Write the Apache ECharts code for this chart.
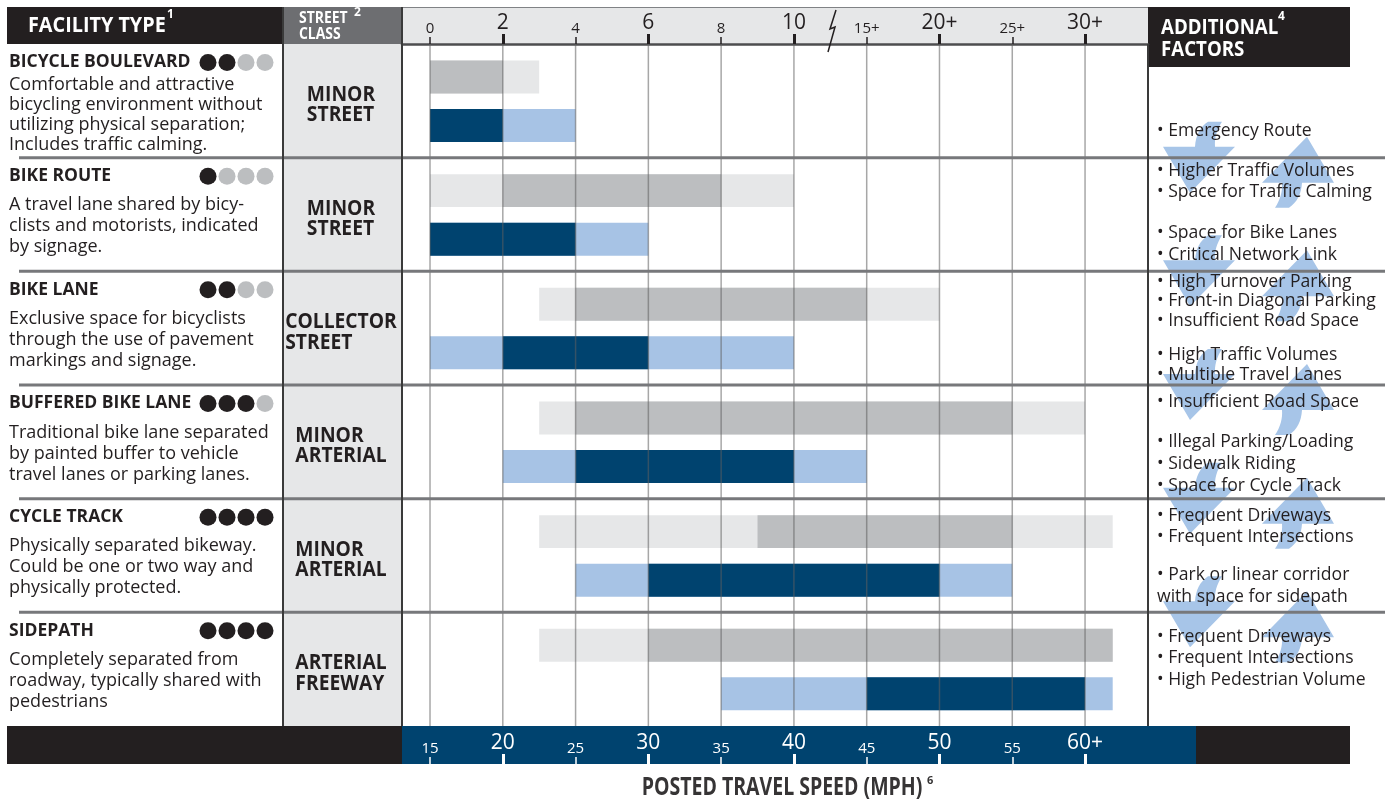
<!DOCTYPE html>
<html><head><meta charset="utf-8">
<script src="https://cdn.jsdelivr.net/npm/echarts@6/dist/echarts.min.js"></script>
<style>html,body{margin:0;padding:0;background:#fff;}#chart{width:1396px;height:804px;}</style>
</head><body><div id="chart"></div>
<script>
// ---------------- DATA ----------------
const facilities = ['BICYCLE BOULEVARD', 'BIKE ROUTE', 'BIKE LANE', 'BUFFERED BIKE LANE', 'CYCLE TRACK', 'SIDEPATH'];
const comfortDots = [2, 1, 2, 3, 4, 4];
const descriptions = [
  ['Comfortable and attractive', 'bicycling environment without', 'utilizing physical separation;', 'Includes traffic calming.'],
  ['A travel lane shared by bicy-', 'clists and motorists, indicated', 'by signage.'],
  ['Exclusive space for bicyclists', 'through the use of pavement', 'markings and signage.'],
  ['Traditional bike lane separated', 'by painted buffer to vehicle', 'travel lanes or parking lanes.'],
  ['Physically separated bikeway.', 'Could be one or two way and', 'physically protected.'],
  ['Completely separated from', 'roadway, typically shared with', 'pedestrians']
];
const streetClasses = [['MINOR', 'STREET'], ['MINOR', 'STREET'], ['COLLECTOR', 'STREET'], ['MINOR', 'ARTERIAL'], ['MINOR', 'ARTERIAL'], ['ARTERIAL', 'FREEWAY']];
const volumeTickLabels = ['0', '2', '4', '6', '8', '10', '15+', '20+', '25+', '30+'];
const speedTickLabels = ['15', '20', '25', '30', '35', '40', '45', '50', '55', '60+'];
// ranges in tick-position units (0 = first tick): [light start, dark start, dark end, light end]
const volumeRanges = [
  [0, 0, 1, 1.5],
  [0, 1, 4, 5],
  [1.5, 2, 6, 7],
  [1.5, 2, 8, 9],
  [1.5, 4.5, 8, 9.38],
  [1.5, 3, 9.38, 9.38]
];
const speedRanges = [
  [0, 0, 1, 2],
  [0, 0, 2, 3],
  [0, 1, 3, 5],
  [1, 2, 5, 6],
  [2, 3, 7, 8],
  [4, 6, 9, 9.38]
];
const factorLines = [
  '• Emergency Route',
  '• Higher Traffic Volumes', '• Space for Traffic Calming',
  '• Space for Bike Lanes', '• Critical Network Link',
  '• High Turnover Parking', '• Front-in Diagonal Parking', '• Insufficient Road Space',
  '• High Traffic Volumes', '• Multiple Travel Lanes',
  '• Insufficient Road Space',
  '• Illegal Parking/Loading', '• Sidewalk Riding', '• Space for Cycle Track',
  '• Frequent Driveways', '• Frequent Intersections',
  '• Park or linear corridor', 'with space for sidepath',
  '• Frequent Driveways', '• Frequent Intersections', '• High Pedestrian Volume'
];

// ---------------- LAYOUT / STYLE ----------------
const factorY = [131, 171, 192, 233, 255, 282, 301, 321, 355, 375, 402, 442, 464, 486, 516, 537, 575, 597, 637, 658, 680];
const FONT = "'Open Sans', 'Noto Sans', sans-serif";
const INK = '#231f20';
const COLORS = ['#e6e7e8', '#bcbec0', '#a7c3e5', '#00436f'];
const XMIN = -0.385, XMAX = 9.865;
const GREY_OFF = 0.29, BLUE_OFF = 0.717, BAR_H = 0.29;

const barData = [];
volumeRanges.forEach((r, i) => { barData.push([r[0], r[3], i, 0]); barData.push([r[1], r[2], i, 1]); });
speedRanges.forEach((r, i) => { barData.push([r[0], r[3], i, 2]); barData.push([r[1], r[2], i, 3]); });
const gridTicks = volumeTickLabels.map((_, i) => [i, 0]);
const rowBounds = [1, 2, 3, 4, 5].map(r => [0, r]);

function renderBar(params, api) {
  const s = api.value(0), e = api.value(1), row = api.value(2), kind = api.value(3);
  const yc = row + (kind < 2 ? GREY_OFF : BLUE_OFF);
  const p0 = api.coord([s, yc]), p1 = api.coord([e, yc]);
  const h = Math.abs(api.size([0, BAR_H])[1]);
  return { type: 'rect', shape: { x: p0[0], y: p0[1] - h / 2, width: p1[0] - p0[0], height: h }, style: { fill: COLORS[kind] } };
}
function renderGridLine(params, api) {
  const v = api.value(0);
  const a = api.coord([v, 0]), b = api.coord([v, 6]);
  return { type: 'line', shape: { x1: a[0], y1: a[1], x2: b[0], y2: b[1] }, style: { stroke: 'rgba(95,95,95,0.55)', lineWidth: 1.5 } };
}
function renderSep(params, api) {
  const y = api.coord([0, api.value(1)])[1];
  return { type: 'line', shape: { x1: 19, y1: y, x2: 1385, y2: y }, style: { stroke: '#77787b', lineWidth: 3 } };
}

function axis(position, vals, labels, big, onBand) {
  const color = onBand ? '#ffffff' : INK;
  return {
    type: 'value', position, min: XMIN, max: XMAX, gridIndex: 0,
    offset: onBand ? 38 : 0, z: 3,
    splitLine: { show: false },
    axisLine: { show: !onBand && !big, lineStyle: { color: '#4d4d4f', width: 2.5 } },
    axisTick: { show: true, customValues: vals, inside: onBand, length: big ? 10 : 7, lineStyle: { color, width: big ? 3 : 1.5 } },
    axisLabel: { show: true, customValues: vals, inside: onBand, margin: big ? 10 : 8, color, fontFamily: FONT, fontSize: big ? 21 : 15,
      formatter: v => labels[Math.round(v)] }
  };
}

const chart = echarts.init(document.getElementById('chart'), null, { renderer: 'canvas' });
chart.setOption({
  animation: false,
  backgroundColor: '#ffffff',
  grid: { left: 402, right: 248, top: 44, bottom: 78 },
  xAxis: [
    axis('top', [0, 2, 4, 6, 8], volumeTickLabels, false, false),
    axis('top', [1, 3, 5, 7, 9], volumeTickLabels, true, false),
    axis('bottom', [0, 2, 4, 6, 8], speedTickLabels, false, true),
    axis('bottom', [1, 3, 5, 7, 9], speedTickLabels, true, true)
  ],
  yAxis: { type: 'value', min: 0, max: 6, inverse: true, show: false },
  series: [
    { type: 'custom', name: 'bars', renderItem: renderBar, data: barData, encode: { x: [0, 1], y: 2 }, z: 2, silent: true },
    { type: 'custom', name: 'grid', renderItem: renderGridLine, data: gridTicks, encode: { x: 0, y: 1 }, z: 4, silent: true },
    { type: 'custom', name: 'sep', renderItem: renderSep, data: rowBounds, encode: { x: 0, y: 1 }, z: 5, silent: true, clip: false }
  ]
});

// ---------------- DECORATION (positions from the axes) ----------------
const rowTop = i => chart.convertToPixel({ yAxisIndex: 0 }, i);
const g = [];
function txt(x, y, text, size, opts) {
  opts = opts || {};
  g.push({ type: 'text', x, y, z: opts.z || 20, scaleX: opts.sx || 1,
    style: { text, fill: opts.fill || INK, fontSize: size, fontFamily: FONT, fontWeight: opts.bold ? 'bold' : 'normal',
      textAlign: opts.align || 'left', textVerticalAlign: 'middle' } });
}
function rect(x, y, w, h, fill, z) { g.push({ type: 'rect', z: z || 0, shape: { x, y, width: w, height: h }, style: { fill } }); }
function line(x1, y1, x2, y2, stroke, w, z) { g.push({ type: 'line', z: z || 6, shape: { x1, y1, x2, y2 }, style: { stroke, lineWidth: w } }); }

const gridTop = rowTop(0), gridBot = rowTop(6);
// header blocks
rect(7, 7, 276, gridTop - 7, INK);
rect(283, 7, 119, gridTop - 7, '#6d6e71');
rect(402, 7, 746, gridTop - 7, '#e6e7e8');
line(402, 7.5, 1148, 7.5, '#808285', 1, 1);
rect(1148, 7, 202, 60, INK, 1);
rect(283, gridTop, 119, gridBot - gridTop, '#e6e7e8');
// bottom band
rect(7, gridBot, 395, 38, INK);
rect(402, gridBot, 794, 38, '#00436f');
rect(1196, gridBot, 154, 38, INK);
// column borders
line(283, 7, 283, gridBot, '#3a3a3a', 2, 6);
line(402, 7, 402, gridBot, '#3a3a3a', 2, 6);
line(1148, gridTop, 1148, gridBot, '#3a3a3a', 2, 6);
// axis break mark
g.push({ type: 'polyline', z: 6, shape: { points: [[836, 10], [830, 29], [835, 27], [828, 52]] }, style: { stroke: INK, lineWidth: 1.5, fill: null } });

// header texts
txt(28, 26, 'FACILITY TYPE', 22, { bold: true, fill: '#fff', sx: 0.9 });
txt(167, 15, '1', 12, { bold: true, fill: '#fff' });
txt(299, 18, 'STREET', 16, { bold: true, fill: '#fff', sx: 0.87 });
txt(299, 34, 'CLASS', 16, { bold: true, fill: '#fff', sx: 0.87 });
txt(354, 13, '2', 12, { bold: true, fill: '#fff' });
txt(1161, 28, 'ADDITIONAL', 21, { bold: true, fill: '#fff', sx: 0.89 });
txt(1161, 50, 'FACTORS', 21, { bold: true, fill: '#fff', sx: 0.89 });
txt(1278, 17, '4', 12, { bold: true, fill: '#fff' });

// left panel rows
const mctx = document.createElement('canvas').getContext('2d');
const SC_SIZE = 20.5, SC_SX = 0.94;
facilities.forEach((name, i) => {
  const top = rowTop(i);
  txt(9, top + 18.5, name, 17.5, { bold: true });
  for (let k = 0; k < 4; k++) {
    g.push({ type: 'circle', z: 20, shape: { cx: 208 + k * 19, cy: top + 18.5, r: 8.5 }, style: { fill: k < comfortDots[i] ? INK : '#bcbec0' } });
  }
  const lines = descriptions[i];
  const start = lines.length > 3 ? 41 : 47.5, step = lines.length > 3 ? 19.8 : 21;
  lines.forEach((l, j) => txt(9, top + start + j * step, l, 18));
  mctx.font = 'bold ' + SC_SIZE + 'px ' + FONT;
  const w = SC_SX * Math.max.apply(null, streetClasses[i].map(s => mctx.measureText(s).width));
  streetClasses[i].forEach((s, j) => txt(341 - w / 2, top + 51 + j * 20.5, s, SC_SIZE, { bold: true, sx: SC_SX }));
});

// additional factors
factorLines.forEach((l, i) => txt(1157, factorY[i], l, 17.6));

// curved arrows at each row boundary (polygon sampled from a curved outline)
function quad(p0, c, p1, n) {
  const out = [];
  for (let k = 1; k <= n; k++) {
    const t = k / n, u = 1 - t;
    out.push([u * u * p0[0] + 2 * u * t * c[0] + t * t * p1[0], u * u * p0[1] + 2 * u * t * c[1] + t * t * p1[1]]);
  }
  return out;
}
const ARROW = [[11, -36], [25, -36]]
  .concat(quad([25, -36], [17, -24], [18, -11], 8))
  .concat([[38, -11], [-7, 35], [-34, -11], [-2, -11]])
  .concat(quad([-2, -11], [-1, -28], [11, -36], 8));
for (let r = 1; r <= 5; r++) {
  const b = rowTop(r);
  g.push({ type: 'polygon', z: 2, x: 1197, y: b, shape: { points: ARROW }, style: { fill: '#a7c5e8' } });
  g.push({ type: 'polygon', z: 2, x: 1300, y: b + 14, rotation: Math.PI, shape: { points: ARROW }, style: { fill: '#a7c5e8' } });
}

// axis title
txt(782, 788, 'POSTED TRAVEL SPEED (MPH)', 25, { bold: true, fill: '#363435', align: 'center', sx: 0.78 });
txt(927, 781, '6', 11, { bold: true, fill: '#363435' });

chart.setOption({ graphic: { elements: g } });
</script></body></html>
